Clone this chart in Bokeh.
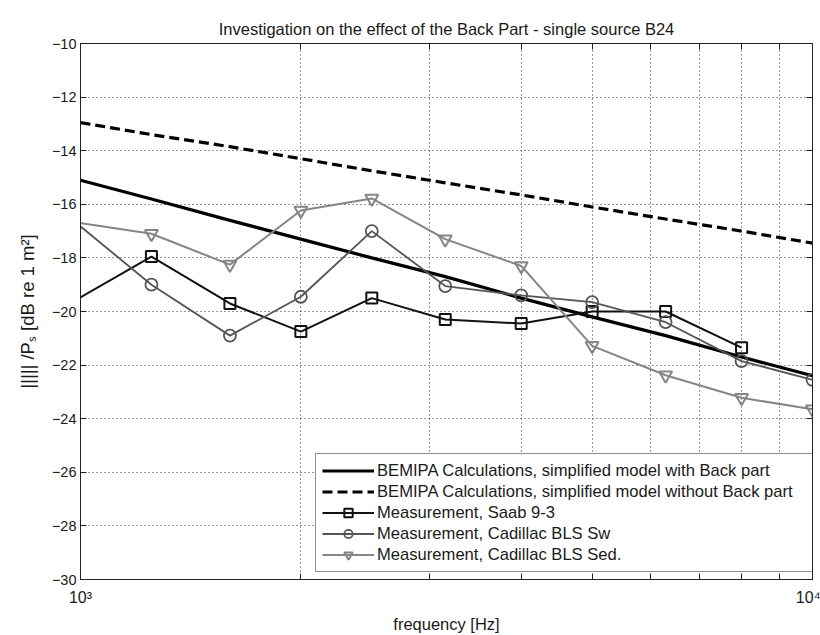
from bokeh.plotting import figure
from bokeh.models import (FixedTicker, LinearAxis, LogAxis, Legend, Range1d)
from bokeh.embed import file_html
from bokeh.resources import INLINE

# ---- data ----
freq_calc = [1000, 1250, 1600, 2000, 2500, 3150, 4000, 5000, 6300, 8000, 10000]
with_back = [-15.1, -15.8, -16.6, -17.3, -18.0, -18.7, -19.5, -20.2, -20.9, -21.7, -22.4]
without_back = [-12.95, -13.4, -13.85, -14.3, -14.75, -15.2, -15.65, -16.1, -16.55, -17.0, -17.45]

freq_saab = [800, 1250, 1600, 2000, 2500, 3150, 4000, 5000, 6300, 8000]
saab = [-21.0, -17.95, -19.7, -20.75, -19.5, -20.3, -20.45, -20.0, -20.0, -21.35]

freq_cad = [800, 1250, 1600, 2000, 2500, 3150, 4000, 5000, 6300, 8000, 10000]
cad_sw = [-14.65, -19.0, -20.9, -19.45, -17.0, -19.05, -19.4, -19.65, -20.4, -21.85, -22.55]
cad_sed = [-16.3, -17.1, -18.25, -16.23, -15.78, -17.3, -18.3, -21.28, -22.38, -23.22, -23.65]

x_major = [1000, 10000]
x_minor = [2000, 3000, 4000, 5000, 6000, 7000, 8000, 9000]
x_labels = {1000: "10³", 10000: "10⁴"}
y_ticks = [-30, -28, -26, -24, -22, -20, -18, -16, -14, -12, -10]

title = "Investigation on the effect of the Back Part - single source B24"
x_label = "frequency [Hz]"
y_label = "||||| /Pₛ [dB re 1 m²]"
labels = ["BEMIPA Calculations, simplified model with Back part",
          "BEMIPA Calculations, simplified model without Back part",
          "Measurement, Saab 9-3",
          "Measurement, Cadillac BLS Sw",
          "Measurement, Cadillac BLS Sed."]

FONT = "Liberation Sans"
TXT = "#1a1a1a"

p = figure(width=820, height=635, x_axis_type="log", output_backend="svg",
           toolbar_location=None, x_range=Range1d(1000, 10000),
           y_range=Range1d(-30, -10),
           min_border_left=80, min_border_right=8, min_border_top=43,
           min_border_bottom=55)

p.title.text = title
p.title.align = "center"
p.title.text_font = FONT
p.title.text_font_size = "16.5px"
p.title.text_font_style = "normal"
p.title.text_color = TXT
p.title.standoff = 12

p.outline_line_color = "#222222"
p.outline_line_width = 1
p.background_fill_color = "white"
p.border_fill_color = "white"

xt = FixedTicker(ticks=x_major, minor_ticks=x_minor)
yt = FixedTicker(ticks=y_ticks)

xa = p.xaxis[0]
xa.ticker = xt
xa.major_label_overrides = x_labels
xa.axis_label = x_label
ya = p.yaxis[0]
ya.ticker = yt
ya.axis_label = y_label

for ax in (xa, ya):
    ax.axis_label_text_font = FONT
    ax.axis_label_text_font_size = "16.5px"
    ax.axis_label_text_font_style = "normal"
    ax.axis_label_text_color = TXT
    ax.major_label_text_font = FONT
    ax.major_label_text_font_size = "14.5px"
    ax.major_label_text_color = TXT
    ax.axis_line_color = "#222222"
    ax.major_tick_line_color = "#222222"
    ax.minor_tick_line_color = "#222222"
    ax.major_tick_in = 6
    ax.major_tick_out = 0
    ax.minor_tick_in = 6
    ax.minor_tick_out = 0
xa.major_label_text_font_size = "16px"
xa.major_label_standoff = 9
xa.axis_label_standoff = 6
ya.axis_label_text_font_size = "18.5px"
ya.major_label_standoff = 4
ya.axis_label_standoff = 11

# top and right tick-only axes
top = LogAxis(ticker=xt, major_label_text_font_size="1px", major_label_text_color=None,
              major_label_standoff=0,
              major_tick_in=6, major_tick_out=0, minor_tick_in=6, minor_tick_out=0,
              axis_line_color="#222222", major_tick_line_color="#222222",
              minor_tick_line_color="#222222")
right = LinearAxis(ticker=yt, major_label_text_font_size="1px", major_label_text_color=None,
                   major_label_standoff=0,
                   major_tick_in=6, major_tick_out=0, minor_tick_line_color=None,
                   axis_line_color="#222222", major_tick_line_color="#222222")
p.add_layout(top, "above")
p.add_layout(right, "right")

# grid
p.xgrid.ticker = xt
p.xgrid.grid_line_color = None
p.xgrid.minor_grid_line_color = "#333333"
p.xgrid.minor_grid_line_dash = "1 3"
p.xgrid.minor_grid_line_width = 1
p.ygrid.ticker = yt
p.ygrid.grid_line_color = "#333333"
p.ygrid.grid_line_dash = "1 3"
p.ygrid.grid_line_width = 1

r1 = p.line(freq_calc, with_back, line_color="black", line_width=3.2)
r2 = p.line(freq_calc, without_back, line_color="black", line_width=3.2, line_dash="10 5")
r3 = p.line(freq_saab, saab, line_color="#111111", line_width=2)
r3m = p.scatter(freq_saab, saab, marker="square", size=11, fill_alpha=0,
                line_color="#111111", line_width=2)
r4 = p.line(freq_cad, cad_sw, line_color="#555555", line_width=1.8)
r4m = p.scatter(freq_cad, cad_sw, marker="circle", size=12, fill_alpha=0,
                line_color="#555555", line_width=1.8)
r5 = p.line(freq_cad, cad_sed, line_color="#858585", line_width=2)
r5m = p.scatter(freq_cad, cad_sed, marker="inverted_triangle", size=13, fill_alpha=0,
                line_color="#858585", line_width=2)

legend = Legend(items=[(labels[0], [r1]), (labels[1], [r2]), (labels[2], [r3, r3m]),
                       (labels[3], [r4, r4m]), (labels[4], [r5, r5m])],
                location=(235, 7), margin=0, padding=6, spacing=0,
                glyph_width=52, glyph_height=21, label_height=21,
                label_standoff=3, label_width=430,
                label_text_font=FONT, label_text_font_size="16.6px",
                label_text_color=TXT,
                border_line_color="#222222", border_line_width=1,
                background_fill_color="white", background_fill_alpha=1)
p.add_layout(legend, "center")

open("out.html", "w").write(file_html(p, INLINE))
